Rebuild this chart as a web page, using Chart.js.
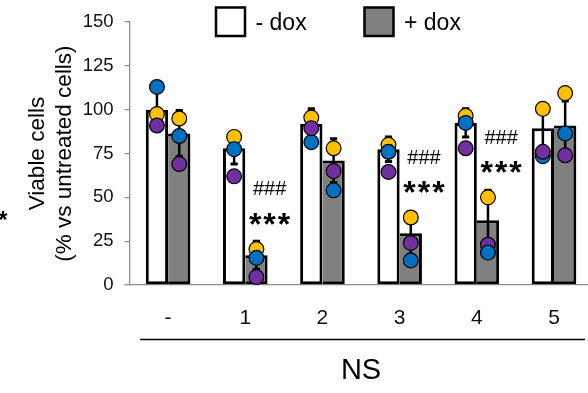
<!DOCTYPE html>
<html><head><meta charset="utf-8">
<script src="https://cdn.jsdelivr.net/npm/chart.js@4.4.1/dist/chart.umd.min.js"></script>
<style>
html,body{margin:0;padding:0;overflow:hidden;background:#fff;width:588px;height:393px}
#wrap{position:absolute;left:0;top:0;width:594px;height:393px}
</style>
</head><body><div id="wrap"><canvas id="c"></canvas></div>
<script>
// ---- data ----
const categories = ['-', '1', '2', '3', '4', '5'];
const seriesLabels = ['- dox', '+ dox'];
const axisTitleX = 'NS';
const axisTitleY = ['Viable cells', '(% vs untreated cells)'];
const yTicks = [0, 25, 50, 75, 100, 125, 150];

const minusDoxMean = [100, 78, 92, 77.5, 92.5, 89.5];
const minusDoxSD   = [12, 9, 8.5, 7, 8, 11];
const plusDoxMean  = [86.5, 17, 71, 29.5, 37, 91];
const plusDoxSD    = [13, 8, 12.5, 12, 17, 14];

const minusDoxRepYellow = [97.5, 84.5, 95.5, 80, 96.5, 100.5];
const minusDoxRepBlue   = [113, 77.5, 81.5, 76, 92.5, 73.5];
const minusDoxRepPurple = [91, 62, 89.5, 64.5, 78, 76];
const plusDoxRepYellow  = [95, 20.5, 78, 38.5, 50, 109.5];
const plusDoxRepBlue    = [85, 15.5, 54, 14, 18.5, 86.5];
const plusDoxRepPurple  = [69, 4.5, 65, 24, 23, 74];

const sigHash = ['', '###', '', '###', '###', ''];
const sigStar = ['', '***', '', '***', '***', ''];

// ---- styles ----
const FONT = '"Liberation Sans", Arial, sans-serif';
const YELLOW = '#FFC000', BLUE = '#0070C0', PURPLE = '#7030A0';
const GRAY = '#808080';

const overlay = {
  id: 'overlay',
  afterDatasetsDraw(chart) {
    const ctx = chart.ctx;
    const y = chart.scales.y;
    // error bars
    chart.data.datasets.forEach((ds, di) => {
      const meta = chart.getDatasetMeta(di);
      meta.data.forEach((bar, i) => {
        const m = ds.data[i], sd = ds.sd[i];
        const yT = y.getPixelForValue(m + sd), yB = y.getPixelForValue(Math.max(m - sd, 0));
        ctx.save();
        ctx.strokeStyle = '#000';
        ctx.lineWidth = 2.5;
        ctx.beginPath(); ctx.moveTo(bar.x, yT); ctx.lineTo(bar.x, yB); ctx.stroke();
        ctx.lineWidth = 3;
        ctx.beginPath();
        ctx.moveTo(bar.x - 3.6, yT); ctx.lineTo(bar.x + 3.6, yT);
        ctx.moveTo(bar.x - 3.6, yB); ctx.lineTo(bar.x + 3.6, yB);
        ctx.stroke();
        ctx.restore();
      });
    });
    // replicate dots
    chart.data.datasets.forEach((ds, di) => {
      const meta = chart.getDatasetMeta(di);
      ds.reps.forEach(rep => {
        meta.data.forEach((bar, i) => {
          const py = y.getPixelForValue(rep.values[i]);
          ctx.save();
          ctx.beginPath();
          ctx.arc(bar.x, py, 7.4, 0, Math.PI * 2);
          ctx.fillStyle = rep.color; ctx.fill();
          ctx.lineWidth = 1.2; ctx.strokeStyle = '#000'; ctx.stroke();
          ctx.restore();
        });
      });
    });
    // significance marks next to + dox bars
    const gmeta = chart.getDatasetMeta(1);
    const gds = chart.data.datasets[1];
    gmeta.data.forEach((bar, i) => {
      if (!sigHash[i] && !sigStar[i]) return;
      const maxV = Math.max(...gds.reps.map(r => r.values[i]));
      const py = y.getPixelForValue(maxV);
      const cx = bar.x + bar.width / 2 + 2;
      ctx.save();
      ctx.fillStyle = '#000';
      ctx.textAlign = 'center';
      ctx.textBaseline = 'alphabetic';
      ctx.font = '20px ' + FONT;
      ctx.fillText(sigHash[i], cx, py - 60.6 + 7);
      ctx.font = 'bold 32px ' + FONT;
      ctx.letterSpacing = '2px';
      ctx.fillText(sigStar[i], cx + 1, py - 33 + 18.5);
      ctx.restore();
    });
    // legend
    ctx.save();
    const items = [
      {x: 216, fill: '#fff', text: seriesLabels[0]},
      {x: 364.5, fill: GRAY, text: seriesLabels[1]}
    ];
    items.forEach(it => {
      ctx.fillStyle = it.fill;
      ctx.fillRect(it.x, 7.5, 29, 28.5);
      ctx.lineWidth = 2.5; ctx.strokeStyle = '#000';
      ctx.strokeRect(it.x, 7.5, 29, 28.5);
      ctx.fillStyle = '#000';
      ctx.font = '23px ' + FONT;
      ctx.textAlign = 'left'; ctx.textBaseline = 'middle';
      ctx.fillText(it.text, it.x + 39.5, 23.5);
    });
    // bracket line above NS
    ctx.strokeStyle = '#000'; ctx.lineWidth = 1.6;
    ctx.beginPath(); ctx.moveTo(140, 339.5); ctx.lineTo(585, 339.5); ctx.stroke();
    // leftover mark at left edge
    ctx.fillStyle = '#000'; ctx.font = 'bold 23px ' + FONT;
    ctx.textAlign = 'center'; ctx.textBaseline = 'alphabetic';
    ctx.fillText('*', 3, 227.5);
    ctx.restore();
  }
};

new Chart(document.getElementById('c'), {
  type: 'bar',
  data: {
    labels: categories,
    datasets: [
      {
        label: seriesLabels[0], data: minusDoxMean, sd: minusDoxSD,
        backgroundColor: '#fff', borderColor: '#000',
        borderWidth: {top: 3, left: 3, right: 3, bottom: 3}, borderSkipped: false,
        reps: [
          {color: YELLOW, values: minusDoxRepYellow},
          {color: BLUE, values: minusDoxRepBlue},
          {color: PURPLE, values: minusDoxRepPurple}
        ]
      },
      {
        label: seriesLabels[1], data: plusDoxMean, sd: plusDoxSD,
        backgroundColor: GRAY, borderColor: '#000',
        borderWidth: {top: 3, left: 0, right: 3, bottom: 3}, borderSkipped: false,
        reps: [
          {color: YELLOW, values: plusDoxRepYellow},
          {color: PURPLE, values: plusDoxRepPurple},
          {color: BLUE, values: plusDoxRepBlue}
        ]
      }
    ]
  },
  options: {
    responsive: true, maintainAspectRatio: false, animation: false,
    devicePixelRatio: 1,
    layout: {padding: {left: 0, right: 1.4, top: 12.3, bottom: 0}},
    datasets: {bar: {categoryPercentage: 0.578, barPercentage: 1}},
    plugins: {legend: {display: false}, tooltip: {enabled: false}},
    scales: {
      x: {
        grid: {display: false, drawTicks: false},
        border: {color: '#8c8c8c', width: 1.3},
        ticks: {font: {family: FONT, size: 21}, color: '#111', padding: 21},
        title: {display: true, text: axisTitleX, font: {family: FONT, size: 29}, color: '#000', padding: {top: 0, bottom: 5}},
        afterFit(s) { s.height = 108; }
      },
      y: {
        min: 0, max: 150,
        afterBuildTicks(s) { s.ticks = yTicks.map(v => ({value: v})); },
        ticks: {font: {family: FONT, size: 18.5}, color: '#111', padding: 11},
        grid: {drawOnChartArea: false, tickLength: 5, color: '#8c8c8c', lineWidth: 1.3},
        border: {color: '#8c8c8c', width: 1.3},
        title: {display: true, text: axisTitleY, font: {family: FONT, size: 22.5}, color: '#000', padding: {top: 24.5, bottom: 0}},
        afterFit(s) { s.width = 129.5; }
      }
    }
  },
  plugins: [overlay]
});
</script>
</body></html>
